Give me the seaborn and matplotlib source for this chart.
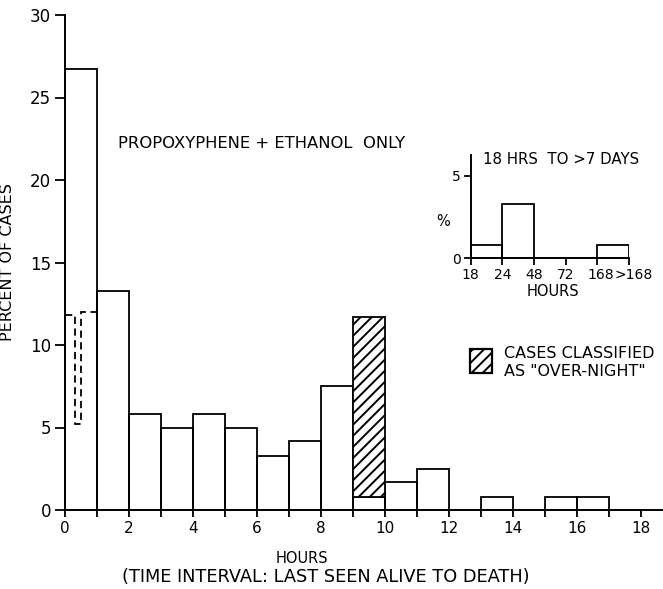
import matplotlib
matplotlib.use("Agg")
import matplotlib.pyplot as plt
from matplotlib.patches import Rectangle
from matplotlib.transforms import ScaledTranslation
import numpy as np
import seaborn as sns

# Hourly bins, 0-18 h: percent of cases
hour_edges = list(range(0, 19))
hour_pct = [26.7, 13.3, 5.8, 5.0, 5.8, 5.0, 3.3, 4.2, 7.5,
            0.8, 1.7, 2.5, 0.0, 0.8, 0.0, 0.8, 0.8, 0.0]

# Cases classified as "over-night" (stacked on the 9-10 h bin)
night_bin = 9
night_base = 0.8
night_top = 11.7

# Finer split of the first hour (dashed outline)
first_hour_edges = [0.0, 0.3, 0.5, 1.0]
first_hour_pct = [11.8, 5.2, 12.0]

# Inset: 18 h to more than 7 days
inset_labels = ["18", "24", "48", "72", "168", ">168"]
inset_pct = [0.8, 3.3, 0.0, 0.0, 0.8]

sns.set_theme(style="ticks")
plt.rcParams["font.family"] = ["DejaVu Sans"]
plt.rcParams["hatch.linewidth"] = 1.4
plt.rcParams["axes.linewidth"] = 1.4

W, H = 663, 589
fig = plt.figure(figsize=(W / 100, H / 100), dpi=100)

def fx(px):
    return px / W

def fy(py):
    return 1 - py / H

ax = fig.add_axes([fx(65), fy(510), fx(661.7) - fx(65), fy(15) - fy(510)])

centers = [e + 0.5 for e in hour_edges[:-1]]
sns.histplot(x=centers, weights=hour_pct, bins=hour_edges, fill=False,
             element="bars", color="black", linewidth=1.3, ax=ax)

ax.bar(night_bin, night_top - night_base, bottom=night_base, width=1,
       align="edge", facecolor="white", edgecolor="black", hatch="///",
       linewidth=1.3)

ax.stairs(first_hour_pct, first_hour_edges, color="black",
          linestyle=(0, (4, 2.5)), linewidth=1.3, baseline=None)

ax.set_xlim(0, 18.65)
ax.set_ylim(0, 30)
ax.set_xticks(range(0, 19, 2))
ax.set_xticks(range(1, 19, 2), minor=True)
ax.set_yticks(range(0, 31, 5))
ax.tick_params(axis="both", which="both", direction="out", color="black",
               width=1.3, labelcolor="black")
ax.tick_params(axis="x", which="both", length=5, pad=3, labelsize=11)
ax.tick_params(axis="y", length=7, pad=3, labelsize=12)
sns.despine(ax=ax)
ax.spines["left"].set_color("black")
ax.spines["bottom"].set_color("black")

ax.set_ylabel("PERCENT OF CASES", fontsize=11.5, color="black")
ax.yaxis.set_label_coords(-0.084, 0.5)
ax.set_xlabel("HOURS", fontsize=10.5, color="black")
ax.xaxis.set_label_coords((302 - 65) / 596.7, (510 - 551) / 495)
fig.text(fx(326), fy(577), "(TIME INTERVAL: LAST SEEN ALIVE TO DEATH)",
         ha="center", va="center", fontsize=12.8, color="black")

fig.text(fx(118), fy(143), "PROPOXYPHENE + ETHANOL  ONLY",
         ha="left", va="center", fontsize=11.8, color="black")

# Legend for the hatched segment
fig.add_artist(Rectangle((fx(470), fy(373)), fx(492) - fx(470),
                         fy(349) - fy(373), transform=fig.transFigure,
                         facecolor="white", edgecolor="black", hatch="///",
                         linewidth=1.6))
fig.text(fx(504), fy(363), 'CASES CLASSIFIED\nAS "OVER-NIGHT"',
         ha="left", va="center", fontsize=11.5, color="black",
         linespacing=1.25)

# Inset
ins = fig.add_axes([fx(470.7), fy(258.3), fx(629) - fx(470.7),
                    fy(155) - fy(258.3)])
inset_edges = list(range(len(inset_labels)))
sns.histplot(x=[e + 0.5 for e in inset_edges[:-1]], weights=inset_pct,
             bins=inset_edges, fill=False, element="bars", color="black",
             linewidth=1.3, ax=ins)
ins.set_xlim(0, len(inset_labels) - 1)
ins.set_ylim(0, 6.25)
ins.set_xticks(inset_edges)
ins.set_xticklabels(inset_labels)
ins.set_yticks([0, 5])
ins.tick_params(axis="both", direction="out", color="black", width=1.3,
                length=5, labelsize=10, labelcolor="black", pad=2)
tick_labels = ins.get_xticklabels()
for lbl, dx in ((tick_labels[-2], 3), (tick_labels[-1], 5)):
    lbl.set_transform(lbl.get_transform()
                      + ScaledTranslation(dx / 100, 0, fig.dpi_scale_trans))
sns.despine(ax=ins)
ins.spines["left"].set_color("black")
ins.spines["bottom"].set_color("black")
ins.set_ylabel("")
ins.set_xlabel("")
fig.text(fx(483), fy(160), "18 HRS  TO >7 DAYS", ha="left", va="center",
         fontsize=10.8, color="black")
fig.text(fx(443), fy(222), "%", ha="center", va="center", fontsize=10.5,
         color="black")
fig.text(fx(553), fy(292), "HOURS", ha="center", va="center",
         fontsize=10.5, color="black")

fig.savefig("out.png", dpi=100, facecolor="white")
